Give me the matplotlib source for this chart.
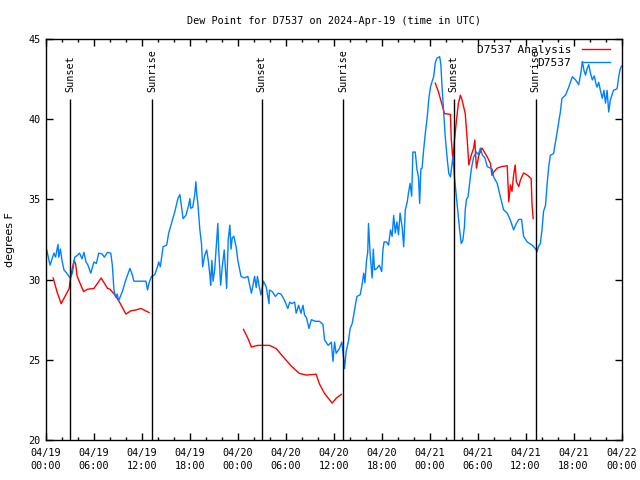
import numpy as np
import matplotlib
matplotlib.use("Agg")
import matplotlib.pyplot as plt

# hours since 2024-04-19 00:00 UTC
obs_t = [0.0, 0.1, 0.5, 1.0, 1.2, 1.5, 1.6, 1.8, 2.0, 2.25, 2.6, 3.0, 3.3, 3.6, 3.9, 4.2, 4.5, 4.75,
         5.0, 5.25, 5.6, 6.0, 6.3, 6.6, 7.0, 7.3, 7.7, 8.1, 8.3, 8.5, 8.7, 8.9, 9.1, 9.55, 10.0, 10.5,
         10.8, 11.0, 12.5, 12.7, 12.9, 13.2, 13.6, 13.95, 14.1, 14.3, 14.65, 15.1, 15.35, 15.7, 16.1,
         16.5, 16.75, 16.95, 17.15, 17.5, 17.85, 18.0, 18.1, 18.35, 18.6, 18.75, 18.85, 19.0, 19.25,
         19.45, 19.6, 19.85, 20.1, 20.3, 20.5, 20.6, 20.75, 20.9, 21.1, 21.3, 21.5, 21.6, 21.85, 22.05,
         22.3, 22.6, 22.8, 23.0, 23.15, 23.3, 23.5, 23.8, 24.0, 24.4, 24.8, 25.25, 25.5, 25.7, 26.1,
         26.3, 26.45, 26.7, 26.9, 27.2, 27.55, 27.9, 27.95, 28.3, 28.7, 29.05, 29.4, 29.85, 30.25,
         30.5, 30.75, 31.1, 31.3, 31.6, 31.9, 32.15, 32.35, 32.6, 32.9, 33.2, 33.7, 34.2, 34.65, 34.85,
         35.3, 35.7, 35.9, 36.1, 36.3, 36.7, 37.0, 37.2, 37.35, 37.55, 37.85, 38.05, 38.3, 38.5, 38.7,
         38.9, 39.3, 39.5, 39.75, 39.9, 40.1, 40.25, 40.35, 40.55, 40.8, 40.95, 41.1, 41.4, 41.7, 42.0,
         42.15, 42.3, 42.6, 42.85, 43.1, 43.3, 43.5, 43.7, 43.9, 44.1, 44.3, 44.55, 44.75, 44.95, 45.2,
         45.35, 45.55, 45.75, 45.9, 46.2, 46.4, 46.6, 46.75, 46.9, 47.05, 47.25, 47.45, 47.7, 47.9,
         48.1, 48.3, 48.5, 48.7, 48.9, 49.25, 49.4, 49.55, 49.75, 49.95, 50.2, 50.4, 50.6, 50.8, 50.9,
         51.1, 51.35, 51.6, 51.75, 51.95, 52.15, 52.35, 52.45, 52.6, 52.8, 53.0, 53.2, 53.5, 53.85,
         54.1, 54.35, 54.6, 54.9, 55.2, 55.6, 55.8, 56.0, 56.45, 56.85, 57.25, 57.7, 58.1, 58.5, 58.85,
         59.15, 59.5, 59.75, 60.2, 60.8, 61.2, 61.45, 61.6, 61.85, 62.05, 62.25, 62.5, 62.7, 62.9,
         63.1, 63.5, 63.75, 63.95, 64.35, 64.55, 65.0, 65.4, 65.85, 66.25, 66.65, 66.9, 67.1, 67.3,
         67.5, 67.7, 67.9, 68.1, 68.35, 68.6, 68.8, 68.95, 69.15, 69.4, 69.6, 69.8, 70.0, 70.2, 70.4,
         70.6, 71.0, 71.45, 71.65, 71.85, 72.0]
obs_v = [31.9, 31.85, 30.9, 31.65, 31.4, 32.2, 31.4, 31.9, 31.2, 30.6, 30.4, 30.1, 30.4, 31.4, 31.5,
         31.65, 31.3, 31.7, 31.1, 30.9, 30.4, 31.1, 31.0, 31.65, 31.6, 31.4, 31.7, 31.65, 30.9, 29.35,
         28.9, 29.1, 28.7, 29.25, 30.0, 30.7, 30.3, 29.9, 29.9, 29.35, 29.8, 30.2, 30.3, 30.8, 31.1,
         30.8, 32.05, 32.15, 32.9, 33.5, 34.2, 35.05, 35.3, 34.55, 33.8, 34.0, 34.65, 35.05, 34.45,
         34.5, 35.25, 36.1, 35.4, 34.75, 33.1, 32.25, 30.8, 31.5, 31.85, 31.2, 30.3, 29.65, 31.2, 29.9,
         30.6, 32.05, 33.5, 31.9, 29.65, 30.8, 31.85, 29.45, 32.5, 33.4, 31.9, 32.6, 32.7, 32.0, 31.2,
         30.2, 30.1, 30.2, 29.6, 29.15, 30.2, 29.5, 30.2, 29.5, 29.05, 29.9, 29.55, 28.5, 29.35, 29.25,
         28.95, 29.15, 29.1, 28.7, 28.2, 28.6, 28.5, 28.6, 27.9, 28.4, 27.9, 28.4, 27.8, 27.6, 26.95,
         27.5, 27.4, 27.4, 27.2, 26.25, 25.9, 26.1, 24.9, 26.1, 25.4, 25.7, 26.1, 25.3, 24.45, 25.5,
         26.2, 26.95, 27.25, 27.8, 28.4, 28.95, 29.05, 29.55, 30.4, 29.8, 31.2, 31.7, 33.5, 31.6, 30.1,
         31.9, 30.6, 30.7, 30.9, 30.5, 31.85, 32.35, 32.35, 32.15, 33.1, 32.7, 34.0, 32.9, 33.6, 32.8,
         34.15, 33.3, 32.05, 34.35, 34.85, 35.4, 36.0, 35.2, 37.95, 37.95, 36.9, 36.4, 34.75, 36.9,
         36.95, 38.1, 39.1, 40.15, 41.3, 42.0, 42.35, 42.65, 43.5, 43.8, 43.9, 43.4, 42.0, 40.5, 38.9,
         37.5, 36.6, 36.4, 37.25, 37.65, 36.4, 35.15, 33.9, 33.1, 32.25, 32.45, 33.3, 34.35, 35.0,
         35.15, 36.0, 36.85, 37.65, 37.95, 37.8, 38.2, 37.75, 37.6, 37.05, 36.95, 36.9, 36.4, 36.0,
         35.15, 34.35, 34.15, 33.7, 33.1, 33.5, 33.75, 33.75, 32.7, 32.35, 32.15, 31.95, 31.75, 32.05,
         32.25, 33.1, 34.25, 34.65, 36.0, 37.05, 37.75, 37.85, 38.6, 39.2, 40.45, 41.3, 41.5, 42.0,
         42.65, 42.45, 42.15, 42.85, 43.6, 43.05, 42.75, 43.15, 43.4, 42.9, 42.45, 42.7, 42.2, 42.0,
         42.3, 41.7, 41.3, 41.8, 41.0, 41.8, 40.45, 41.2, 41.8, 41.9, 42.65, 43.15, 43.3]

# analysis, three separate runs
ana1_t = [0.9, 1.4, 1.9, 2.9, 3.1, 3.5, 3.7, 3.9, 4.7, 5.2, 6.0, 6.9, 7.7, 8.0, 8.7, 9.3, 10.0, 10.6,
          11.2, 11.85, 12.9]
ana1_v = [30.1, 29.2, 28.5, 29.45, 30.2, 31.2, 31.0, 30.2, 29.25, 29.4, 29.45, 30.1, 29.45, 29.4,
          29.0, 28.5, 27.85, 28.05, 28.1, 28.2, 27.95]
ana2_t = [24.7, 25.25, 25.7, 26.5, 27.95, 28.8, 29.65, 30.7, 31.7, 32.55, 33.8, 34.2, 34.85, 35.8,
          36.3, 36.95]
ana2_v = [26.9, 26.35, 25.8, 25.9, 25.9, 25.7, 25.2, 24.6, 24.15, 24.05, 24.1, 23.5, 22.9, 22.3,
          22.6, 22.85]
ana3_t = [48.7, 49.1, 49.55, 49.85, 50.6, 50.7, 50.9, 51.1, 51.4, 51.6, 51.85, 52.05, 52.45, 52.7,
          52.9, 53.2, 53.5, 53.65, 53.85, 54.15, 54.55, 55.2, 55.6, 55.8, 56.0, 56.45, 57.05, 57.7,
          57.9, 58.1, 58.3, 58.5, 58.7, 58.85, 59.15, 59.35, 59.75, 60.25, 60.7, 60.8, 60.95]
ana3_v = [42.25, 41.7, 40.9, 40.35, 40.3, 38.8, 37.45, 38.7, 40.15, 41.0, 41.5, 41.2, 40.35, 38.7,
          37.15, 37.75, 38.2, 38.7, 36.95, 37.75, 38.2, 37.65, 37.25, 36.5, 36.7, 36.95, 37.05, 37.1,
          34.85, 35.9, 35.5, 36.5, 37.15, 36.1, 35.8, 36.2, 36.65, 36.5, 36.3, 34.75, 33.8]

sun_t = [3.05, 13.3, 26.97, 37.2, 51.0, 61.25]
sun_lbl = ["Sunset", "Sunrise", "Sunset", "Sunrise", "Sunset", "Sunrise"]

xtick_t = [0, 6, 12, 18, 24, 30, 36, 42, 48, 54, 60, 66, 72]
xtick_lbl = ["04/19\n00:00", "04/19\n06:00", "04/19\n12:00", "04/19\n18:00",
             "04/20\n00:00", "04/20\n06:00", "04/20\n12:00", "04/20\n18:00",
             "04/21\n00:00", "04/21\n06:00", "04/21\n12:00", "04/21\n18:00",
             "04/22\n00:00"]

mono = "DejaVu Sans Mono"
fs = 7.3

fig = plt.figure(figsize=(6.4, 4.8), dpi=100)
ax = fig.add_axes([46 / 640, 1 - 440 / 480, 575.5 / 640, 401 / 480])

ana_t = ana1_t + [np.nan] + ana2_t + [np.nan] + ana3_t
ana_v = ana1_v + [np.nan] + ana2_v + [np.nan] + ana3_v
ax.plot(ana_t, ana_v, color="#ff0000", lw=1.0, label="D7537 Analysis")
ax.plot(obs_t, obs_v, color="#0080ff", lw=1.0, label="D7537")

ax.vlines(sun_t, 20, 41.26, color="black", lw=1.0)
for t, s in zip(sun_t, sun_lbl):
    ax.text(t, 41.7, s, rotation=90, ha="center", va="bottom", family=mono, fontsize=fs)

ax.set_xlim(0, 72)
ax.set_ylim(20, 45)
ax.set_xticks(xtick_t)
ax.set_xticklabels(xtick_lbl, family=mono, fontsize=fs, linespacing=1.35)
ax.set_xticks(np.arange(0, 73, 2), minor=True)
ax.set_yticks([20, 25, 30, 35, 40, 45])
ax.set_yticklabels(["20", "25", "30", "35", "40", "45"], family=mono, fontsize=fs)
ax.tick_params(which="both", direction="in", top=True, right=True, width=1.0)
ax.tick_params(which="major", length=5)
ax.tick_params(which="minor", length=2.5)
ax.tick_params(axis="x", pad=6)
ax.tick_params(axis="y", pad=4)
for sp in ax.spines.values():
    sp.set_linewidth(1.0)

ax.set_ylabel("degrees F", fontsize=8)
ax.yaxis.set_label_coords(-0.053, 0.5)
ax.set_title("Dew Point for D7537 on 2024-Apr-19 (time in UTC)", family=mono, fontsize=fs, pad=11)

ax.legend(loc="upper right", bbox_to_anchor=(0.98, 0.985), frameon=False, markerfirst=False,
          handlelength=2.5, handletextpad=1.0, labelspacing=0.25, borderaxespad=0, borderpad=0,
          prop={"family": mono, "size": fs + 0.7})

fig.savefig("out.png", dpi=100)
